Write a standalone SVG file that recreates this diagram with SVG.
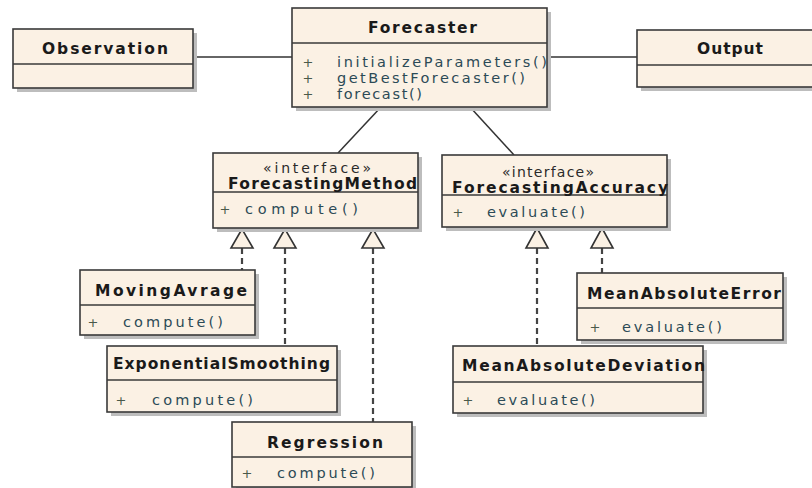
<svg xmlns="http://www.w3.org/2000/svg" width="812" height="488" viewBox="0 0 812 488">
<defs>
<style>
.box{fill:#fbf1e4;stroke:#3a3a3a;stroke-width:1.6}
.sh{fill:#bdbdbd}
.div{stroke:#3a3a3a;stroke-width:1.4}
.t{font-family:"DejaVu Sans","Liberation Sans",Arial,sans-serif;font-size:15.5px;font-weight:bold;fill:#1a1a1a}
.st{font-family:"DejaVu Sans","Liberation Sans",Arial,sans-serif;font-size:14px;fill:#2a2a2a}
.m{font-family:"DejaVu Sans","Liberation Sans",Arial,sans-serif;font-size:14.5px;fill:#2c4a56}
.p{font-family:"DejaVu Sans","Liberation Sans",Arial,sans-serif;font-size:13px;fill:#4a5a4a}
.ln{stroke:#333;stroke-width:1.5;fill:none}
.dl{stroke:#444;stroke-width:2.2;stroke-dasharray:6 4;fill:none}
.tri{fill:#fbf1e4;stroke:#333;stroke-width:1.6}
</style>
</defs>
<rect width="812" height="488" fill="#ffffff"/>

<g id="connectors">
<line class="ln" x1="193" y1="57" x2="292" y2="57"/>
<line class="ln" x1="547" y1="57" x2="637" y2="57"/>
<line class="ln" x1="381" y1="107" x2="338" y2="153"/>
<line class="ln" x1="470" y1="107" x2="514" y2="155"/>
<line class="dl" x1="242" y1="248" x2="242" y2="270"/>
<line class="dl" x1="285" y1="248" x2="285" y2="346"/>
<line class="dl" x1="373" y1="248" x2="373" y2="422"/>
<line class="dl" x1="537" y1="248" x2="537" y2="346"/>
<line class="dl" x1="602" y1="248" x2="602" y2="273"/>
<polygon class="tri" points="242,229 231,248 253,248"/>
<polygon class="tri" points="285,229 274,248 296,248"/>
<polygon class="tri" points="373,229 362,248 384,248"/>
<polygon class="tri" points="537,228 526,248 548,248"/>
<polygon class="tri" points="602,228 591,248 613,248"/>
</g>

<g id="Observation">
<rect class="sh" x="17" y="33" width="180" height="59"/>
<rect class="box" x="13" y="29" width="180" height="59"/>
<line class="div" x1="13" y1="64" x2="193" y2="64"/>
<text class="t" x="42" y="54" textLength="126" lengthAdjust="spacing">Observation</text>
</g>

<g id="Forecaster">
<rect class="sh" x="296" y="12" width="255" height="99"/>
<rect class="box" x="292" y="8" width="255" height="99"/>
<line class="div" x1="292" y1="43" x2="547" y2="43"/>
<text class="t" x="368" y="33" textLength="109" lengthAdjust="spacing">Forecaster</text>
<text class="p" x="308" y="67" text-anchor="middle">+</text>
<text class="p" x="308" y="83" text-anchor="middle">+</text>
<text class="p" x="308" y="99" text-anchor="middle">+</text>
<text class="m" x="337" y="67" textLength="210" lengthAdjust="spacing">initializeParameters()</text>
<text class="m" x="337" y="83" textLength="188" lengthAdjust="spacing">getBestForecaster()</text>
<text class="m" x="337" y="99" textLength="85" lengthAdjust="spacing">forecast()</text>
</g>

<g id="Output">
<rect class="sh" x="641" y="34" width="180" height="57"/>
<rect class="box" x="637" y="30" width="180" height="57"/>
<line class="div" x1="637" y1="65" x2="812" y2="65"/>
<text class="t" x="697" y="54" textLength="66" lengthAdjust="spacing">Output</text>
</g>

<g id="ForecastingMethod">
<rect class="sh" x="217" y="157" width="205" height="75"/>
<rect class="box" x="213" y="153" width="205" height="75"/>
<line class="div" x1="213" y1="192" x2="418" y2="192"/>
<text class="st" x="263" y="173" textLength="108" lengthAdjust="spacing">«interface»</text>
<text class="t" x="228" y="189" textLength="189" lengthAdjust="spacing">ForecastingMethod</text>
<text class="p" x="225" y="214" text-anchor="middle">+</text>
<text class="m" x="245" y="214" textLength="113" lengthAdjust="spacing">compute()</text>
</g>

<g id="ForecastingAccuracy">
<rect class="sh" x="446" y="159" width="225" height="72"/>
<rect class="box" x="442" y="155" width="225" height="72"/>
<line class="div" x1="442" y1="195" x2="667" y2="195"/>
<text class="st" x="502" y="177" textLength="92" lengthAdjust="spacing">«interface»</text>
<text class="t" x="452" y="193" textLength="216" lengthAdjust="spacing">ForecastingAccuracy</text>
<text class="p" x="458" y="217" text-anchor="middle">+</text>
<text class="m" x="487" y="217" textLength="98" lengthAdjust="spacing">evaluate()</text>
</g>

<g id="MovingAvrage">
<rect class="sh" x="84" y="274" width="175" height="65"/>
<rect class="box" x="80" y="270" width="175" height="65"/>
<line class="div" x1="80" y1="305" x2="255" y2="305"/>
<text class="t" x="95" y="296" textLength="152" lengthAdjust="spacing">MovingAvrage</text>
<text class="p" x="93" y="327" text-anchor="middle">+</text>
<text class="m" x="123" y="327" textLength="100" lengthAdjust="spacing">compute()</text>
</g>

<g id="ExponentialSmoothing">
<rect class="sh" x="111" y="350" width="230" height="66"/>
<rect class="box" x="107" y="346" width="230" height="66"/>
<line class="div" x1="107" y1="380" x2="337" y2="380"/>
<text class="t" x="113" y="369" textLength="217" lengthAdjust="spacing">ExponentialSmoothing</text>
<text class="p" x="121" y="405" text-anchor="middle">+</text>
<text class="m" x="152" y="405" textLength="101" lengthAdjust="spacing">compute()</text>
</g>

<g id="Regression">
<rect class="sh" x="236" y="426" width="180" height="65"/>
<rect class="box" x="232" y="422" width="180" height="65"/>
<line class="div" x1="232" y1="457" x2="412" y2="457"/>
<text class="t" x="267" y="448" textLength="116" lengthAdjust="spacing">Regression</text>
<text class="p" x="247" y="478" text-anchor="middle">+</text>
<text class="m" x="277" y="478" textLength="98" lengthAdjust="spacing">compute()</text>
</g>

<g id="MeanAbsoluteError">
<rect class="sh" x="581" y="277" width="206" height="67"/>
<rect class="box" x="577" y="273" width="206" height="67"/>
<line class="div" x1="577" y1="308" x2="783" y2="308"/>
<text class="t" x="587" y="299" textLength="194" lengthAdjust="spacing">MeanAbsoluteError</text>
<text class="p" x="595" y="332" text-anchor="middle">+</text>
<text class="m" x="622" y="332" textLength="100" lengthAdjust="spacing">evaluate()</text>
</g>

<g id="MeanAbsoluteDeviation">
<rect class="sh" x="457" y="350" width="250" height="67"/>
<rect class="box" x="453" y="346" width="250" height="67"/>
<line class="div" x1="453" y1="382" x2="703" y2="382"/>
<text class="t" x="462" y="371" textLength="243" lengthAdjust="spacing">MeanAbsoluteDeviation</text>
<text class="p" x="468" y="405" text-anchor="middle">+</text>
<text class="m" x="497" y="405" textLength="98" lengthAdjust="spacing">evaluate()</text>
</g>
</svg>
